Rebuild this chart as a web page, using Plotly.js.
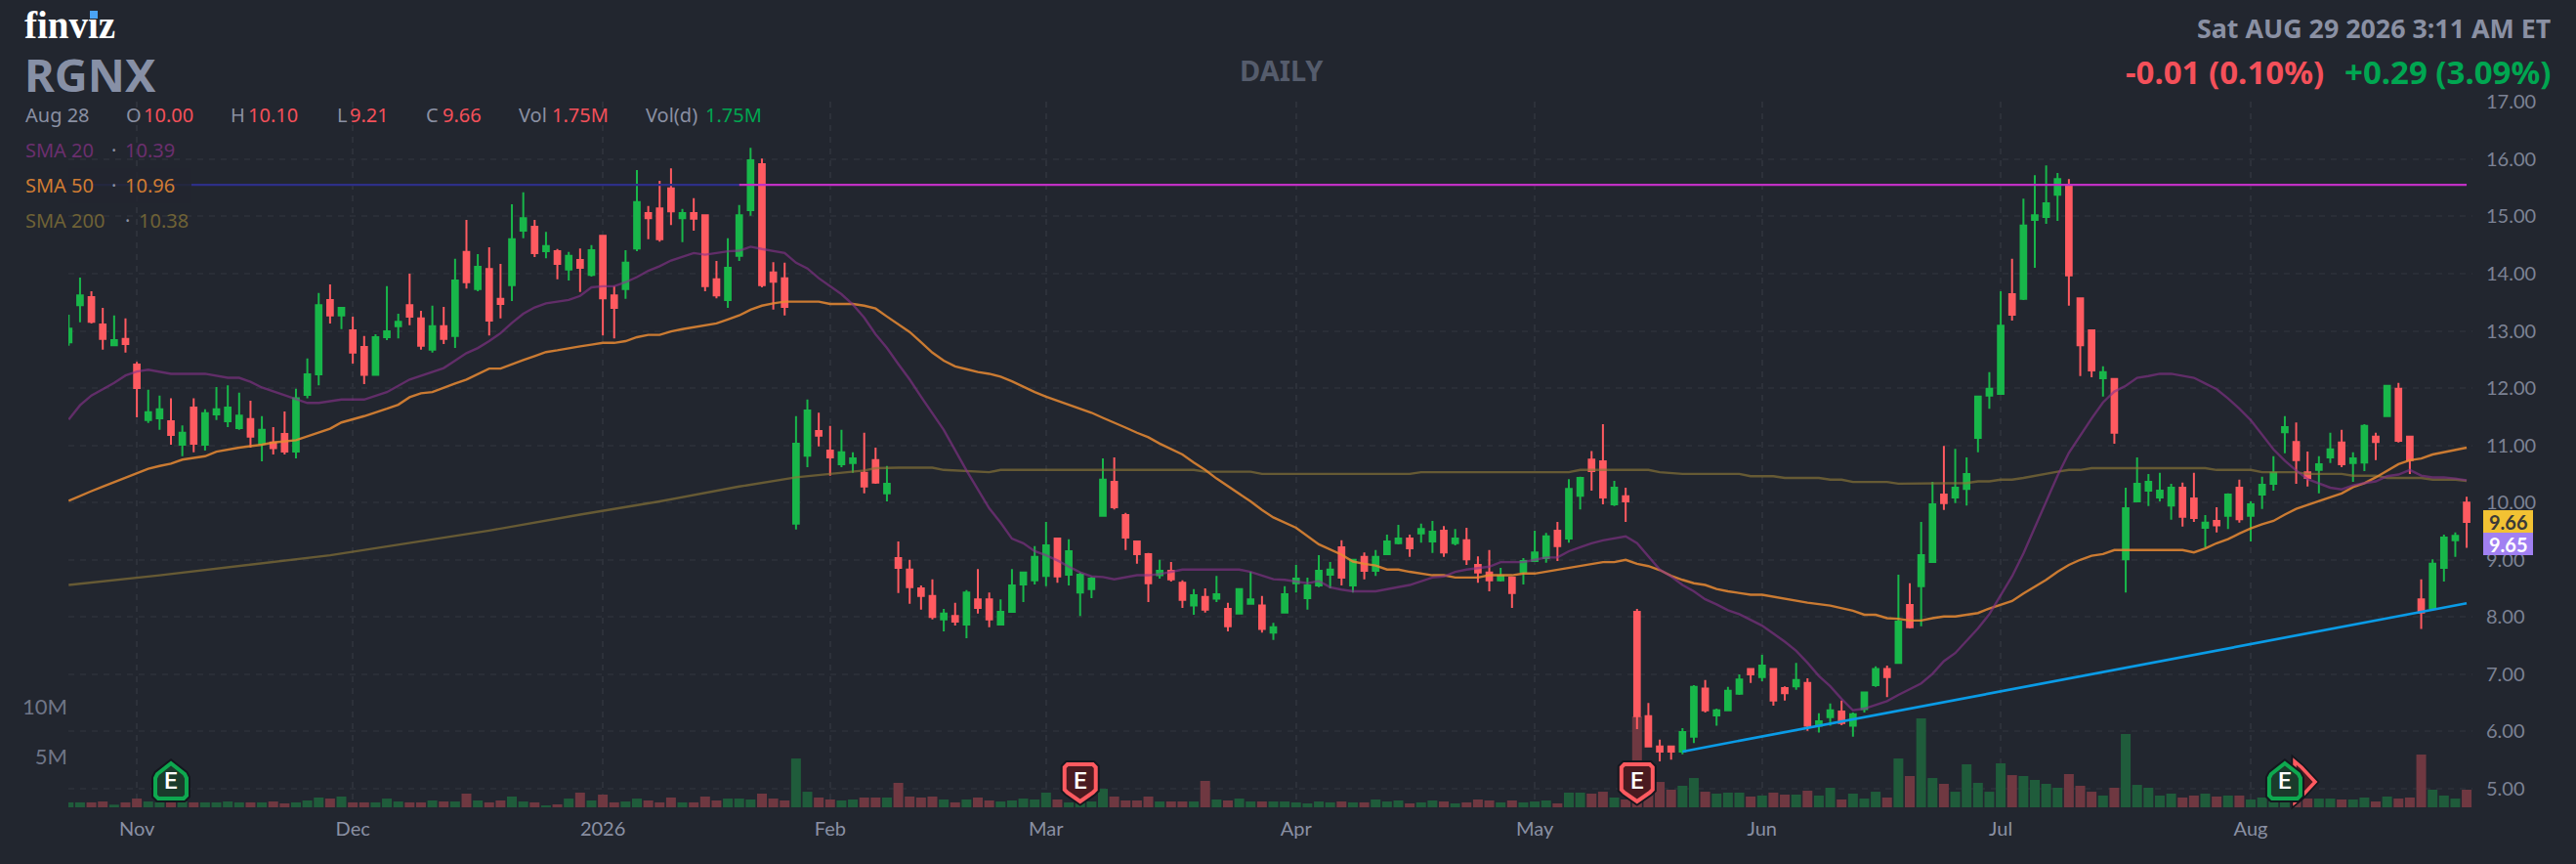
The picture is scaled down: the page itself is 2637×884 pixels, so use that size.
<!DOCTYPE html>
<html><head><meta charset="utf-8">
<script src="https://cdn.plot.ly/plotly-3.0.1.min.js"></script>
<style>html,body{margin:0;padding:0;background:#22262f;overflow:hidden}#c{width:2637px;height:884px}</style>
</head><body><div id="c"></div>
<script>
const open_ = [12.80,13.45,13.59,13.11,12.75,12.86,12.41,11.44,11.47,11.42,
11.01,11.66,11.01,11.54,11.42,11.30,11.46,11.03,11.05,11.20,
10.89,11.88,12.24,13.54,13.27,13.01,12.72,12.23,12.89,13.08,
13.45,13.22,12.67,13.08,12.91,14.38,13.73,14.08,13.56,13.80,
14.75,14.82,14.39,14.39,14.07,14.24,13.98,14.66,13.62,13.73,
14.44,15.06,15.14,15.49,14.97,15.06,15.02,13.90,13.54,14.31,
15.11,15.91,14.02,13.92,9.63,10.82,11.25,10.91,10.67,10.69,
10.52,10.74,10.16,9.03,8.83,8.50,8.37,7.96,8.02,7.87,
8.31,8.31,7.87,8.09,8.57,8.64,8.72,9.37,8.74,8.43,
8.49,9.77,10.36,9.78,9.32,9.10,8.73,8.81,8.60,8.20,
8.35,8.32,8.14,8.06,8.23,8.20,7.73,8.08,8.59,8.33,
8.55,8.74,9.22,8.55,9.05,8.81,9.10,9.29,9.37,9.46,
9.32,9.51,9.29,9.34,8.91,8.78,8.64,8.69,8.79,8.98,
9.03,9.51,9.37,10.12,10.75,10.72,9.97,10.11,8.09,6.27,
5.74,5.74,5.65,5.91,6.75,6.28,6.37,6.66,7.09,6.95,
7.09,6.76,6.79,6.85,6.10,6.25,6.35,6.10,6.39,6.81,
7.09,7.20,8.21,8.54,8.96,10.14,10.09,10.24,11.13,11.87,
11.90,13.64,13.56,14.94,14.99,15.38,15.54,13.57,13.01,12.17,
12.16,9.01,10.02,10.21,10.09,9.95,10.26,10.07,9.56,9.68,
9.77,10.26,9.77,10.14,10.33,11.23,11.06,10.53,10.57,10.79,
11.05,10.69,10.70,11.15,11.51,11.99,11.15,8.31,8.16,8.86,9.34,10.00];
const high = [13.28,13.93,13.69,13.40,13.27,13.22,12.46,11.97,11.87,11.82,
11.35,11.82,11.63,12.02,12.05,11.92,11.78,11.51,11.32,11.59,
11.99,12.52,13.66,13.81,13.40,13.25,12.91,12.94,13.78,13.30,
14.00,13.35,13.44,13.42,14.26,14.94,14.34,14.46,14.17,15.21,
15.42,14.94,14.73,14.43,14.38,14.44,14.50,14.66,13.78,14.41,
15.81,15.18,15.62,15.84,15.13,15.32,15.02,14.22,14.62,15.20,
16.20,16.01,14.20,14.19,11.51,11.80,11.57,11.34,11.27,10.88,
11.22,10.96,10.64,9.32,9.00,8.55,8.66,8.14,8.25,8.47,
8.84,8.43,8.31,8.84,8.78,9.24,9.66,9.37,9.36,8.78,
8.70,10.77,10.79,9.82,9.32,9.12,9.00,8.96,8.64,8.49,
8.50,8.72,8.25,8.49,8.79,8.37,7.90,8.54,8.91,8.69,
9.08,8.96,9.34,9.01,9.13,9.17,9.44,9.61,9.44,9.63,
9.68,9.59,9.54,9.56,9.06,9.17,8.86,8.69,9.03,9.51,
9.47,9.66,10.41,10.45,10.90,11.37,10.38,10.26,8.14,6.50,
5.86,5.75,6.06,6.81,6.90,6.40,6.78,7.00,7.10,7.34,
7.10,6.79,7.20,6.93,6.32,6.49,6.54,6.33,6.69,7.14,
7.15,8.74,8.59,9.66,10.36,10.99,10.94,10.79,11.87,12.28,
13.69,14.26,15.31,15.72,15.89,15.76,15.65,13.57,13.01,12.38,
12.16,10.26,10.79,10.50,10.52,10.33,10.35,10.52,9.78,9.92,
10.16,10.40,10.02,10.45,10.81,11.51,11.40,10.89,10.81,11.22,
11.27,10.88,11.37,11.22,12.05,12.09,11.17,8.66,9.01,9.44,9.48,10.10];
const low = [12.74,13.15,13.13,12.67,12.75,12.62,11.49,11.39,11.27,11.01,
10.81,10.88,10.91,11.44,11.32,11.27,10.96,10.72,10.84,10.84,
10.77,11.82,12.05,13.13,13.03,12.43,12.07,12.23,12.84,12.87,
13.10,12.67,12.62,12.77,12.70,13.74,13.69,12.92,13.22,13.52,
14.62,14.29,14.27,13.90,13.88,13.68,13.95,12.92,12.87,13.56,
14.39,14.60,14.56,14.85,14.55,14.75,13.69,13.57,13.40,14.22,
15.01,13.76,13.37,13.27,9.53,10.62,10.98,10.47,10.62,10.52,
10.16,10.33,10.02,8.42,8.23,8.13,7.96,7.75,7.85,7.63,
8.06,7.82,7.87,8.09,8.26,8.57,8.54,8.60,8.55,8.02,
8.33,9.75,9.88,9.17,8.93,8.26,8.67,8.62,8.16,8.04,
8.08,8.26,7.75,8.06,8.23,7.73,7.60,8.06,8.43,8.13,
8.52,8.50,8.55,8.43,8.66,8.72,9.10,9.27,9.05,9.30,
9.12,9.05,9.25,8.91,8.60,8.45,8.62,8.16,8.57,8.96,
8.95,8.98,9.30,9.88,10.21,9.97,9.94,9.66,6.04,5.74,
5.48,5.51,5.60,5.80,6.33,6.10,6.37,6.64,6.85,6.88,
6.45,6.54,6.73,6.01,5.98,6.10,6.11,5.91,6.33,6.78,
6.60,7.20,7.80,7.84,8.96,9.87,9.99,9.95,10.88,11.64,
11.90,13.18,13.54,14.10,14.87,14.92,13.44,12.21,12.19,11.85,
11.03,8.43,10.02,9.94,10.02,9.70,9.58,9.66,9.22,9.48,
9.54,9.65,9.32,9.89,10.21,10.86,10.33,10.28,10.16,10.69,
10.62,10.36,10.55,10.74,11.51,11.05,10.50,7.79,8.16,8.62,9.05,9.21];
const close_ = [13.04,13.62,13.16,12.86,12.84,12.77,12.00,11.58,11.63,11.18,
11.22,11.03,11.56,11.63,11.66,11.52,11.15,11.27,10.95,10.89,
11.82,12.24,13.45,13.27,13.40,12.62,12.23,12.89,12.99,13.16,
13.25,12.74,13.08,12.86,13.88,13.85,14.12,13.18,13.47,14.60,
14.97,14.36,14.48,14.17,14.31,14.10,14.41,13.57,13.40,14.19,
15.25,14.97,14.60,15.09,15.06,14.96,13.78,13.62,14.10,15.02,
15.98,13.80,13.86,13.42,11.03,11.61,11.17,10.79,10.88,10.77,
10.28,10.35,10.33,8.86,8.52,8.37,8.00,8.06,7.92,8.43,
8.16,7.96,8.09,8.55,8.78,9.05,9.25,8.71,9.15,8.74,
8.67,10.40,9.92,9.39,9.10,8.59,8.81,8.66,8.30,8.38,
8.13,8.40,7.84,8.49,8.31,7.79,7.82,8.40,8.67,8.55,
8.81,8.83,8.69,9.00,8.81,9.05,9.32,9.37,9.20,9.54,
9.49,9.13,9.37,9.01,8.78,8.64,8.72,8.42,8.98,9.13,
9.41,9.24,10.24,10.43,10.55,10.09,10.26,10.02,6.27,5.74,
5.65,5.65,5.99,6.78,6.37,6.37,6.71,6.91,7.00,7.15,
6.54,6.67,6.90,6.10,6.18,6.37,6.15,6.30,6.68,7.09,
6.95,7.92,7.82,9.08,9.97,9.99,10.26,10.50,11.85,11.99,
13.09,13.28,14.84,15.02,15.23,15.65,13.97,12.75,12.31,12.28,
11.22,9.90,10.33,10.36,10.21,10.26,9.75,9.73,9.65,9.60,
10.14,9.71,9.97,10.31,10.52,11.32,10.74,10.43,10.67,10.93,
10.67,10.77,11.34,11.06,12.04,11.08,10.74,8.08,8.93,9.39,9.42,9.66];
const volumeM = [.49,.49,.49,.58,.26,.49,.87,.58,.49,.58,
.58,.49,.49,.49,.58,.49,.49,.49,.58,.39,
.49,.68,.97,.87,1.07,.49,.49,.49,.87,.58,
.49,.49,.68,.58,.58,1.36,.68,.49,.68,1.07,
.58,.49,.19,.29,.87,1.46,.68,1.26,.49,.58,
.87,.68,.49,.97,.49,.49,1.07,.68,.87,.87,
.78,1.36,.87,.68,4.85,1.55,.97,.78,.68,.78,
.97,.97,.97,2.43,1.07,.97,1.07,.78,.49,.78,
.97,.68,.58,.68,.87,.78,1.46,.78,.49,.78,
.58,1.84,1.07,.68,.68,1.07,.58,.58,.58,.58,
2.62,.78,.68,.87,.58,.58,.58,.58,.49,.39,
.58,.49,.58,.49,.49,.78,.58,.68,.39,.49,
.68,.58,.39,.49,.78,.68,.49,.68,.49,.58,
.68,.39,1.46,1.46,1.36,1.55,.97,.78,9.03,1.71,
2.52,1.75,2.14,2.91,1.55,1.36,1.46,1.46,1.07,1.17,
1.46,1.26,1.26,1.65,1.17,1.94,.78,1.36,.87,1.55,
.97,4.85,3.11,8.83,2.91,2.33,1.55,4.27,2.43,1.55,
4.37,3.20,3.11,2.72,2.33,1.94,3.30,2.14,1.55,1.17,
1.94,7.28,2.23,1.94,1.17,1.36,.97,1.17,1.36,1.07,
1.17,1.17,.78,.97,.58,.58,.97,.87,.87,.87,
.78,.78,.97,.58,1.07,.87,.97,5.24,1.75,1.17,.87,1.75];

const sma20X = [0,1,2,3,4,5,6,7,9,12,14,15,16,17,19,20,21,22,24,26,28,30,33,34,35,36,37,38,39,40,41,42,43,44,45,46,47,48,49,50,51,52,53,54,55,56,57,58,59,60,61,62,63,64,65,66,67,68,69,70,71,72,73,74,75,76,77,79,80,81,82,83,84,85,86,87,88,89,90,91,92,93,94,95,96,97,98,99,101,103,104,105,106,107,108,109,110,111,112,113,115,117,118,120,121,122,123,125,126,127,128,129,130,131,132,133,134,135,136,137,138,139,140,141,142,143,144,145,146,147,148,149,150,151,152,153,154,155,156,157,158,159,160,161,162,163,164,165,166,167,168,169,170,171,172,173,174,175,176,177,178,179,180,181,182,183,184,185,186,187,188,189,190,191,192,193,194,195,196,197,198,199,200,201,202,203,204,205,206,207,208,209,210,211];
const sma20 = [11.45,11.70,11.87,11.98,12.09,12.22,12.29,12.32,12.25,12.25,12.18,12.18,12.11,12.01,11.87,11.81,11.74,11.74,11.80,11.80,11.93,12.15,12.35,12.48,12.61,12.70,12.82,12.96,13.14,13.30,13.41,13.48,13.51,13.54,13.61,13.76,13.78,13.78,13.85,13.94,14.05,14.13,14.23,14.30,14.36,14.33,14.36,14.39,14.40,14.47,14.43,14.40,14.36,14.19,14.09,13.92,13.78,13.64,13.46,13.23,12.94,12.70,12.42,12.15,11.85,11.55,11.27,10.56,10.24,9.90,9.65,9.37,9.29,9.15,9.08,8.99,8.88,8.78,8.71,8.70,8.66,8.70,8.73,8.73,8.75,8.79,8.83,8.83,8.83,8.83,8.79,8.72,8.66,8.65,8.62,8.59,8.63,8.52,8.48,8.45,8.45,8.52,8.56,8.69,8.71,8.79,8.83,8.88,8.96,8.96,8.96,9.00,9.04,9.04,9.15,9.22,9.29,9.34,9.38,9.41,9.29,9.05,8.83,8.71,8.56,8.45,8.31,8.22,8.12,8.05,7.95,7.85,7.71,7.57,7.41,7.20,6.97,6.79,6.57,6.37,6.40,6.46,6.53,6.64,6.74,6.84,7.01,7.23,7.37,7.58,7.80,8.05,8.37,8.71,9.11,9.56,9.99,10.47,10.87,11.18,11.47,11.75,11.94,12.04,12.18,12.21,12.25,12.25,12.21,12.18,12.08,11.98,11.82,11.64,11.44,11.18,10.93,10.73,10.56,10.41,10.33,10.26,10.23,10.30,10.34,10.37,10.46,10.49,10.57,10.47,10.44,10.44,10.42,10.39];

const sma50X = [0,1,2,3,4,5,6,7,8,9,10,12,13,15,17,18,20,22,23,24,26,28,29,30,31,32,33,34,35,36,37,38,39,40,41,42,43,44,45,46,47,48,49,50,51,52,53,54,55,56,57,58,59,60,61,62,63,64,66,67,69,70,71,72,73,74,75,76,77,78,79,80,81,82,83,84,85,86,87,88,89,90,91,92,93,94,95,96,97,98,99,100,101,102,103,104,105,106,108,110,112,113,114,115,116,117,118,120,121,122,124,125,127,128,129,131,133,135,136,137,138,139,140,141,142,143,144,145,146,148,149,151,153,155,157,158,159,160,161,162,163,164,165,166,168,169,170,171,172,173,174,175,176,177,178,179,180,181,186,187,188,189,190,191,192,193,194,195,196,197,198,199,200,201,202,203,204,205,206,207,208,209,210,211];
const sma50 = [10.03,10.12,10.20,10.28,10.36,10.43,10.52,10.59,10.64,10.68,10.75,10.81,10.89,10.96,11.01,11.05,11.09,11.23,11.29,11.40,11.51,11.64,11.71,11.84,11.91,11.93,12.01,12.08,12.15,12.24,12.34,12.34,12.42,12.49,12.56,12.63,12.66,12.70,12.73,12.76,12.79,12.79,12.82,12.89,12.93,12.93,12.99,13.03,13.06,13.10,13.13,13.20,13.27,13.37,13.44,13.48,13.51,13.51,13.51,13.47,13.47,13.44,13.39,13.25,13.12,12.98,12.80,12.62,12.48,12.38,12.33,12.28,12.25,12.20,12.12,12.02,11.93,11.85,11.78,11.72,11.65,11.57,11.48,11.40,11.31,11.22,11.14,11.03,10.94,10.84,10.70,10.57,10.42,10.29,10.15,10.02,9.87,9.74,9.56,9.27,9.09,8.97,8.93,8.90,8.83,8.83,8.79,8.73,8.73,8.69,8.69,8.73,8.73,8.76,8.76,8.83,8.89,8.96,8.96,9.00,8.93,8.89,8.82,8.72,8.65,8.59,8.56,8.49,8.45,8.39,8.39,8.32,8.25,8.20,8.11,8.04,8.04,7.98,7.97,7.94,7.94,7.98,8.01,8.01,8.07,8.15,8.21,8.28,8.41,8.53,8.65,8.79,8.91,9.00,9.07,9.10,9.17,9.17,9.17,9.13,9.20,9.29,9.36,9.46,9.55,9.62,9.68,9.79,9.89,9.96,10.03,10.10,10.16,10.27,10.34,10.44,10.56,10.67,10.74,10.77,10.84,10.88,10.91,10.96];

const sma200X = [0,8,23,37,45,52,59,64,67,70,71,73,76,77,81,82,99,100,104,105,118,119,132,133,139,140,142,147,148,150,151,154,155,156,157,160,161,166,167,168,169,170,171,172,173,174,175,176,177,178,188,189,192,193,196,197,200,201,203,204,207,208,210,211];
const sma200 = [8.56,8.73,9.08,9.51,9.79,10.02,10.28,10.44,10.50,10.56,10.60,10.61,10.61,10.57,10.53,10.57,10.57,10.54,10.54,10.50,10.50,10.53,10.53,10.57,10.57,10.53,10.50,10.50,10.46,10.46,10.43,10.43,10.40,10.40,10.36,10.36,10.33,10.33,10.34,10.37,10.37,10.40,10.40,10.43,10.47,10.50,10.54,10.57,10.57,10.60,10.60,10.57,10.57,10.53,10.53,10.50,10.50,10.47,10.47,10.43,10.43,10.40,10.40,10.38];

const resistanceBlueX = [0,59];
const resistanceBlueY = [15.55,15.55];
const resistanceMagentaX = [59,211];
const resistanceMagentaY = [15.55,15.55];
const trendX = [142,211];
const trendY = [5.65,8.24];

const monthIdx = [6,25,47,67,86,108,129,149,170,192];
const monthLabels = ['Nov','Dec','2026','Feb','Mar','Apr','May','Jun','Jul','Aug'];
const priceTicks = [5,6,7,8,9,10,11,12,13,14,15,16,17];
const volTicks = [5,10];
const volTickLabels = ['5M','10M'];
const earningsGreenIdx = [9,195];
const earningsRedIdx = [89,138];

const idx = close_.map((_,i)=>i);
const W=2637,H=884,L=70,R=2531,T=104,B=826;
const GREEN='#18b74a',RED='#ff5a60',BG='#22262f';
const px=x=>(x-L)/(R-L), py=y=>1-(y-T)/(B-T);
const xOf=i=>70.3+11.634*i;

const traces=[
 {type:'bar',x:idx,y:volumeM,yaxis:'y',marker:{color:idx.map(i=>close_[i]>=open_[i]?'#1f5c3b':'#6f3841'),line:{width:0}},hoverinfo:'skip'},
 {type:'candlestick',x:idx,open:open_,high:high,low:low,close:close_,yaxis:'y2',
  increasing:{line:{color:GREEN,width:2},fillcolor:GREEN},decreasing:{line:{color:RED,width:2},fillcolor:RED},whiskerwidth:0,hoverinfo:'skip'},
 {type:'scatter',mode:'lines',x:sma200X,y:sma200,yaxis:'y2',line:{color:'rgba(140,118,55,0.65)',width:2.4},hoverinfo:'skip'},
 {type:'scatter',mode:'lines',x:sma50X,y:sma50,yaxis:'y2',line:{color:'rgba(232,138,50,0.85)',width:2.4},hoverinfo:'skip'},
 {type:'scatter',mode:'lines',x:sma20X,y:sma20,yaxis:'y2',line:{color:'rgba(135,50,140,0.62)',width:2.4},hoverinfo:'skip'},
 {type:'scatter',mode:'lines',x:resistanceBlueX,y:resistanceBlueY,yaxis:'y2',line:{color:'#2d2f88',width:2.2},hoverinfo:'skip'},
 {type:'scatter',mode:'lines',x:resistanceMagentaX,y:resistanceMagentaY,yaxis:'y2',line:{color:'#c030c4',width:2.2},hoverinfo:'skip'},
 {type:'scatter',mode:'lines',x:trendX,y:trendY,yaxis:'y2',line:{color:'#0a9be6',width:2.6},hoverinfo:'skip'}
];

function rect(x0,y0,x1,y1,fill,layer){return {type:'rect',xref:'paper',yref:'paper',x0:px(x0),x1:px(x1),y0:py(y0),y1:py(y1),fillcolor:fill,line:{width:0},layer:layer||'below'};}
function pathShape(pts,fill,stroke,w){
 const d=pts.map((p,i)=>(i?'L':'M')+px(p[0]).toFixed(5)+','+py(p[1]).toFixed(5)).join(' ')+' Z';
 return {type:'path',xref:'paper',yref:'paper',path:d,fillcolor:fill,line:{color:stroke,width:w},layer:'above'};
}
function greenE(cx){const p=[[cx-14,792],[cx,781],[cx+14,792],[cx+16,796],[cx+16,814],[cx+13,817],[cx-13,817],[cx-16,814],[cx-16,796]];
 return [pathShape(p,'#1a3b2b','#14171e',8),pathShape(p,'#1a3b2b','#0ea84f',4)];}
function redE(cx){const p=[[cx-13,782],[cx+13,782],[cx+16,785],[cx+16,808],[cx+13,811],[cx,820],[cx-13,811],[cx-16,808],[cx-16,785]];
 return [pathShape(p,'#4a1a20','#14171e',8),pathShape(p,'#4a1a20','#ff5a60',4)];}

const chevron=[[2349,779],[2356,785],[2370,800],[2356,815],[2349,821]];
const shapes=[
 rect(2525.5,T,R+1,B,BG),
 rect(L,T,803,140,BG),
 rect(L,140,202,172,BG),
 rect(L,172,196,208,BG),
 rect(L,208,230,240,BG),
 rect(L,172,196,208,'rgba(34,38,47,0.82)','above'),
 pathShape(chevron,'#4a1a20','#14171e',7),pathShape(chevron,'#4a1a20','#ff5a60',3.5),
 ...earningsGreenIdx.flatMap(i=>greenE(xOf(i))),
 ...earningsRedIdx.flatMap(i=>redE(xOf(i))),
 rect(2542,522,2593,545,'#f2c233','above'),
 rect(2542,545,2593,568,'#a180f2','above')
];

const HEAD='"Noto Sans",Roboto,sans-serif';
function t(text,x,y,size,color,o){o=o||{};return {xref:'paper',yref:'paper',x:px(x),y:py(y),text:text,showarrow:false,xanchor:o.a||'left',yanchor:'middle',
 font:{family:o.f||HEAD,size:size,color:color,weight:o.w||400},borderpad:0,borderwidth:0};}
const GREY='#8a90a3',REDT='#f4505a',GRNT='#00a651',DIM='#6b2f6e',ORG='#d07c33',OLV='#6f6236';
const annotations=[
 t('finviz',25,26,39,'#ffffff',{f:'"Liberation Serif",serif',w:700}),
 {xref:'paper',yref:'paper',x:px(96),y:py(14.5),text:'&nbsp;',showarrow:false,xanchor:'center',yanchor:'middle',width:8,height:8,bgcolor:'#4aa3f5',borderpad:0,borderwidth:0,font:{size:6}},
 t('RGNX',25,76,47,'#8790a6',{w:700}),
 t('DAILY',1312,72,29,'#555c6c',{a:'center',w:700}),
 t('Sat AUG 29 2026 3:11 AM ET',2611,28,26.8,'#8a90a3',{a:'right',w:700}),
 t('-0.01 (0.10%)',2379,73,33,REDT,{a:'right',w:700}),
 t('+0.29 (3.09%)',2611,73,33,GRNT,{a:'right',w:700}),
 t('Aug 28',26,117,20,GREY),
 t('O',129,117,20,GREY),t('10.00',147,117,20,REDT),
 t('H',236,117,20,GREY),t('10.10',254,117,20,REDT),
 t('L',345,117,20,GREY),t('9.21',358,117,20,REDT),
 t('C',436,117,20,GREY),t('9.66',453,117,20,REDT),
 t('Vol',531,117,20,GREY),t('1.75M',565,117,20,REDT),
 t('Vol(d)',661,117,20,GREY),t('1.75M',722,117,20,GRNT),
 t('SMA 20',26,153,20,DIM),t('·',114,153,20,GREY),t('10.39',128,153,20,DIM),
 t('SMA 50',26,189,20,ORG),t('·',114,189,20,GREY),t('10.96',128,189,20,ORG),
 t('SMA 200',26,225,20,OLV),t('·',128,225,20,GREY),t('10.38',142,225,20,OLV),
 ...earningsGreenIdx.concat(earningsRedIdx).map(i=>t('E',xOf(i),799,24,'#ffffff',{a:'center',f:'Roboto,sans-serif',w:500})),
 t('9.66',2567.5,533.5,20,'#3b3a38',{a:'center',f:'Lato,sans-serif',w:700}),
 t('9.65',2567.5,556.5,20,'#ffffff',{a:'center',f:'Lato,sans-serif',w:700})
];

const layout={
 width:W,height:H,paper_bgcolor:BG,plot_bgcolor:BG,showlegend:false,hovermode:false,
 margin:{l:L,r:W-R,t:T,b:H-B,pad:0},bargap:0.14,boxgap:0.3,
 xaxis:{type:'linear',range:[(L-70.3)/11.634,(R-70.3)/11.634],tickmode:'array',tickvals:monthIdx,ticktext:monthLabels,
  showgrid:true,gridcolor:'#2d313a',gridwidth:2,griddash:'6px,6px',zeroline:false,showline:false,ticks:'',
  tickfont:{family:'Lato,sans-serif',size:20,color:'#8a90a3'},rangeslider:{visible:false},ticklabelstandoff:8,fixedrange:true},
 yaxis:{side:'left',range:[0,(B-T)/10.3],tickmode:'array',tickvals:volTicks,ticktext:volTickLabels,showgrid:false,zeroline:false,showline:false,ticks:'',
  tickfont:{family:'Lato,sans-serif',size:22,color:'#6f7587'},fixedrange:true},
 yaxis2:{overlaying:'y',side:'right',range:[5-(B-807)/58.56,5+(807-T)/58.56],tickmode:'array',tickvals:priceTicks,tickformat:'.2f',
  showgrid:true,gridcolor:'#2a2e37',gridwidth:2,griddash:'6px,6px',zeroline:false,showline:false,ticks:'',ticklabelstandoff:13,
  tickfont:{family:'Lato,sans-serif',size:20,color:'#7c8294'},fixedrange:true},
 shapes:shapes,annotations:annotations
};
Plotly.newPlot('c',traces,layout,{staticPlot:true,displayModeBar:false});
</script></body></html>
